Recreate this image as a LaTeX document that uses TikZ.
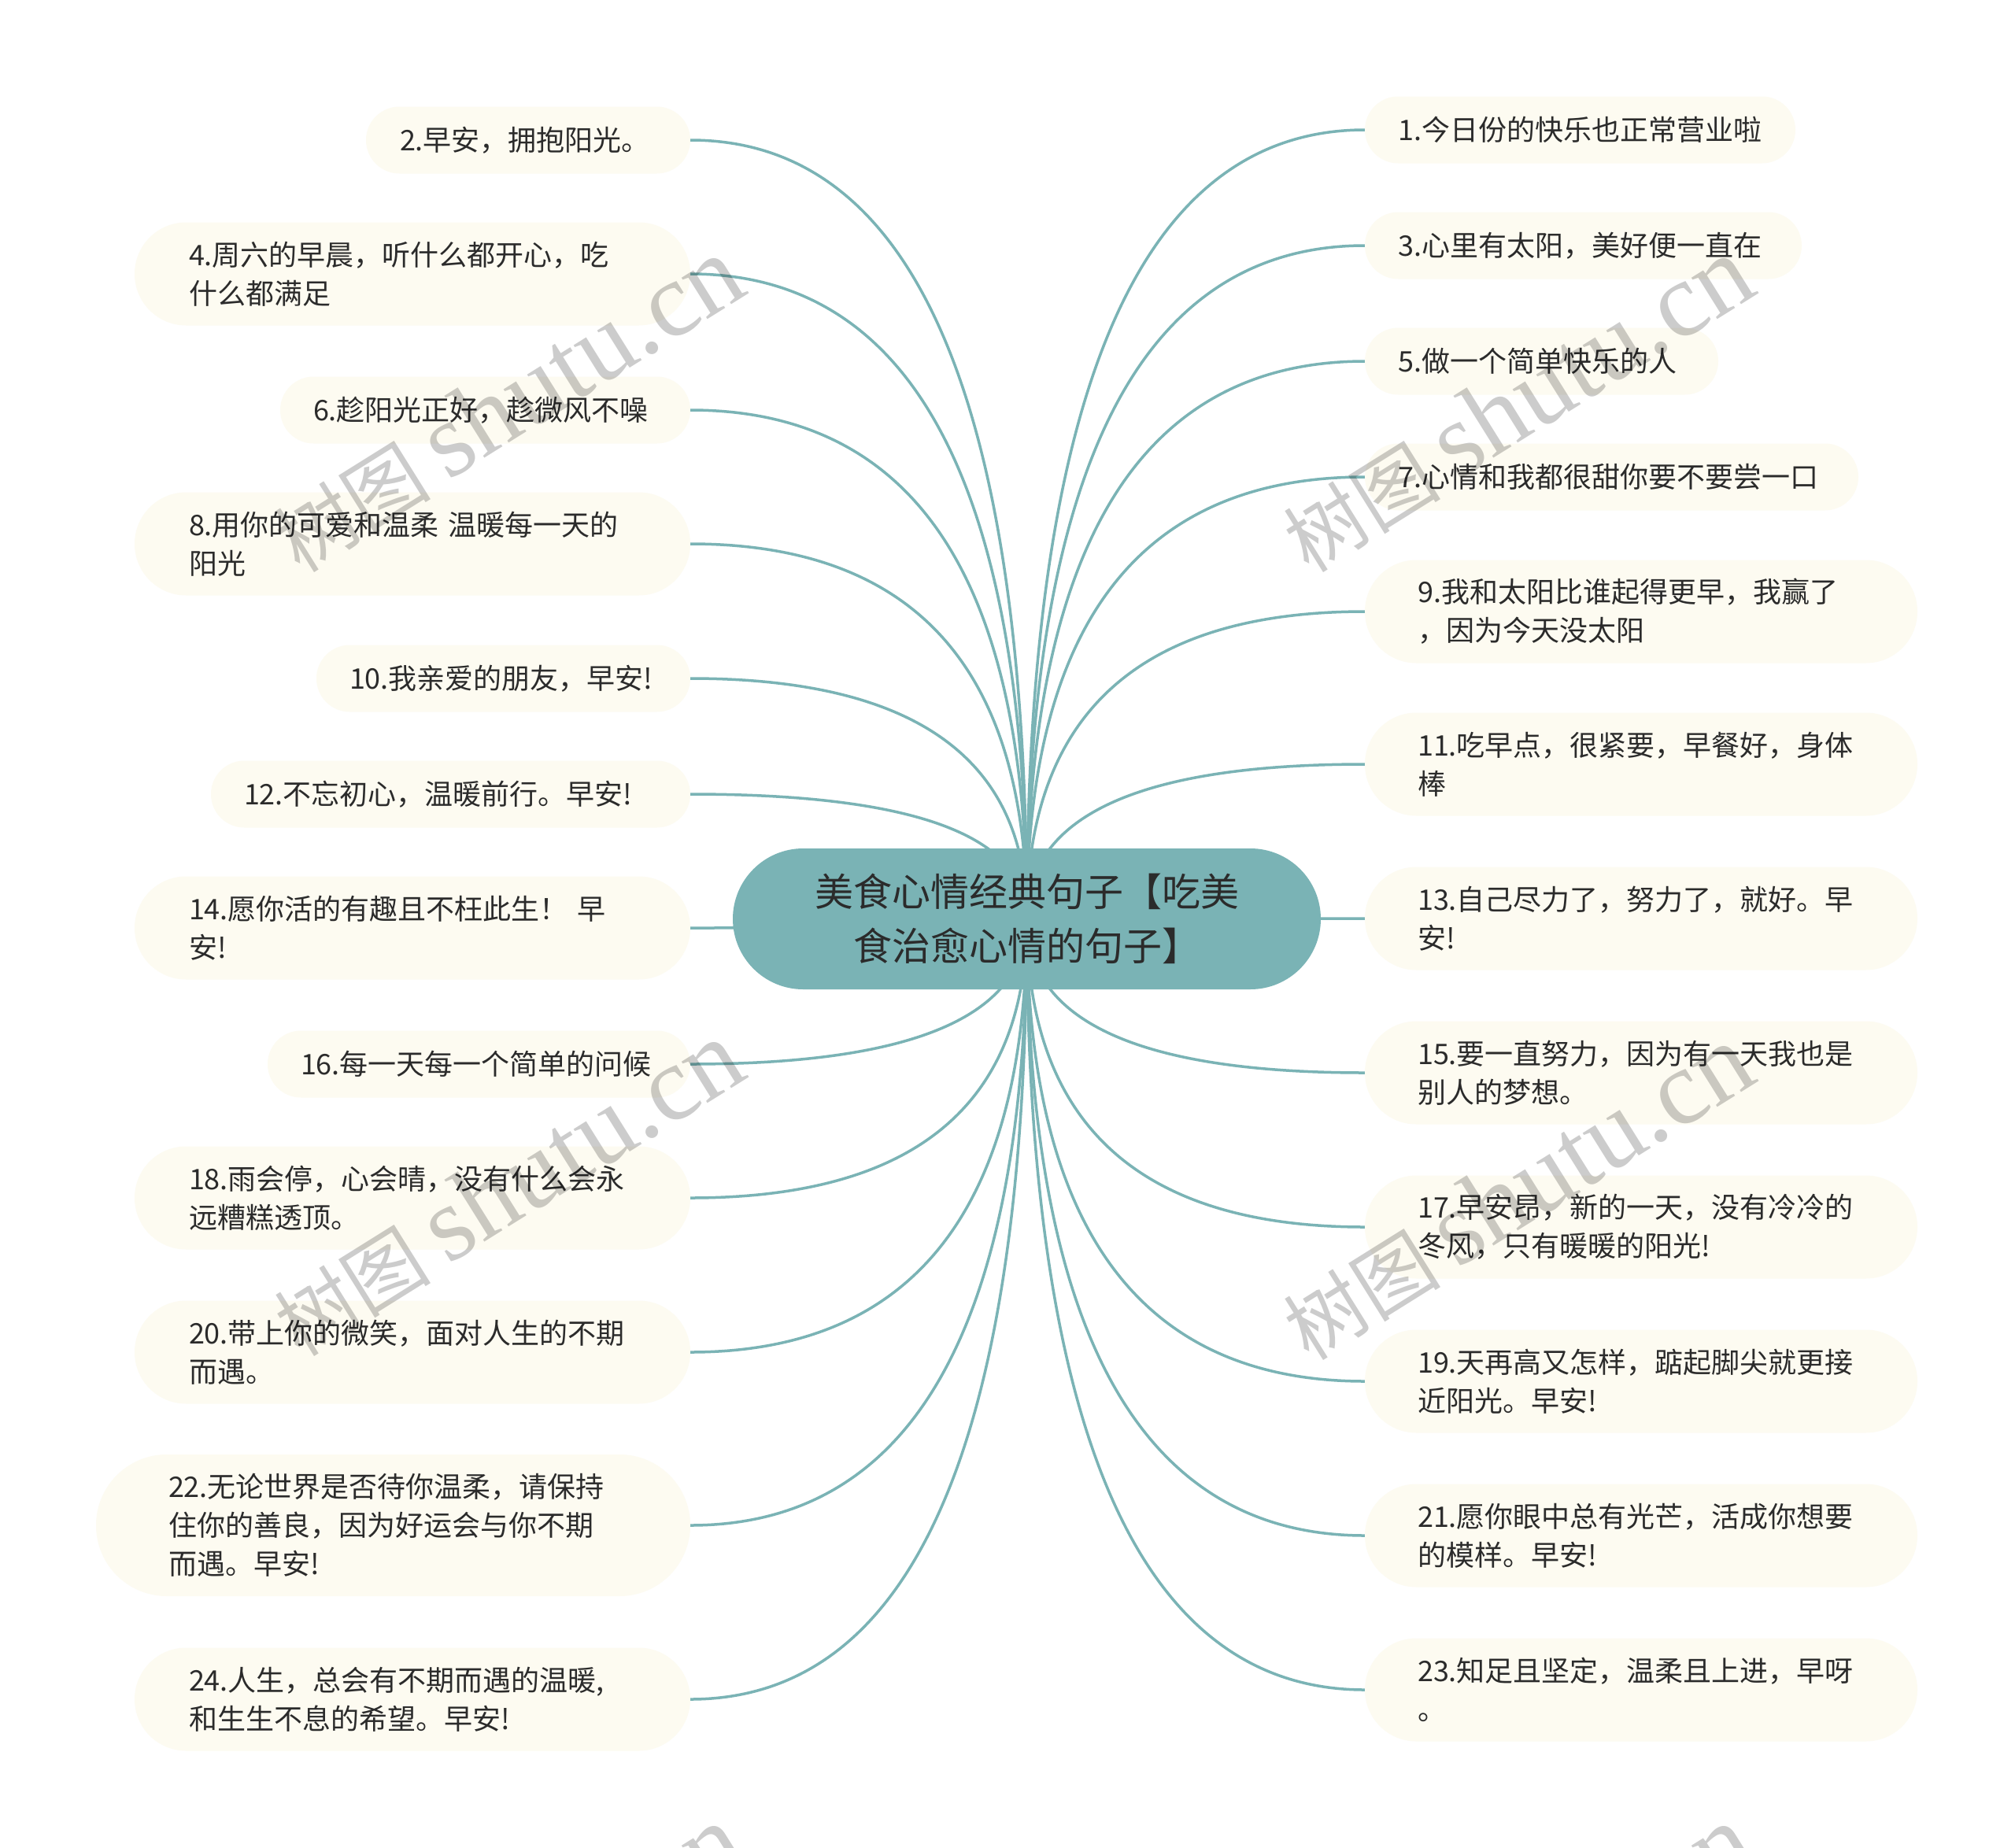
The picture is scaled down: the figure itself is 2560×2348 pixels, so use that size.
\documentclass[tikz,border=0pt]{standalone}
\usepackage{fontspec}
\setmainfont{Noto Sans CJK SC}
\newfontfamily\wmlatin{Liberation Serif}
\usetikzlibrary{calc,backgrounds}
\definecolor{rootcol}{HTML}{7AB3B5}
\definecolor{linecol}{HTML}{7AB3B5}
\definecolor{leafcol}{HTML}{FDFBF1}
\definecolor{txtcol}{HTML}{2B2B2B}
\tikzset{
  leafbox/.style={fill=leafcol, text=txtcol, align=left, inner ysep=0pt, outer sep=0pt,
    font=\fontsize{36}{49}\selectfont},
  rootbox/.style={fill=rootcol, text=txtcol, align=center, inner sep=0pt, outer sep=0pt,
    minimum width=747pt, minimum height=179pt, rounded corners=89.5pt,
    font=\fontsize{49}{69}\selectfont},
  conn/.style={draw=linecol, line width=3.5pt},
  wmark/.style={text=black, text opacity=0.2, rotate=32, inner sep=0pt}
}
% name, cx, cy, width, height, left padding, text
\newcommand\leafnode[7]{%
  \pgfmathsetmacro\lftw{#4-2*#6}%
  \pgfmathsetmacro\lfrr{#5/2}%
  \node[leafbox, minimum width=#4pt, minimum height=#5pt, inner xsep=#6pt,
        text width=\lftw pt, rounded corners=\lfrr pt] (#1) at (#2,#3) {#7};}
\newcommand\conR[1]{%
  \coordinate (k#1) at (root.center |- #1.west);
  \draw[conn] (root.center) .. controls ($(root.center)!0.6667!(k#1)$) and ($(#1.west)!0.6667!(k#1)$) .. (#1.west);}
\newcommand\conL[1]{%
  \coordinate (k#1) at (root.center |- #1.east);
  \draw[conn] (root.center) .. controls ($(root.center)!0.6667!(k#1)$) and ($(#1.east)!0.6667!(k#1)$) .. (#1.east);}
\newcommand\wmtext{{\fontsize{100}{100}\selectfont 树图}\hspace{22pt}{\wmlatin\fontsize{135}{135}\selectfont shutu.cn}}
\begin{document}
\begin{tikzpicture}[x=1pt, y=-1pt]
\useasboundingbox (0,0) rectangle (2560,2348);

\node[rootbox] (root) at (1304.5,1167.5) {美食心情经典句子【吃美\\食治愈心情的句子】};

% right side
\leafnode{r1}{2007.5}{165}{547}{85}{42}{1.今日份的快乐也正常营业啦}
\leafnode{r3}{2011.5}{312}{555}{85}{42}{3.心里有太阳，美好便一直在}
\leafnode{r5}{1958.5}{459}{449}{85}{42}{5.做一个简单快乐的人}
\leafnode{r7}{2047.5}{606}{627}{85}{42}{7.心情和我都很甜你要不要尝一口}
\leafnode{r9}{2085}{777}{702}{131}{67}{9.我和太阳比谁起得更早，我赢了\\，因为今天没太阳}
\leafnode{r11}{2085}{971}{702}{131}{67}{11.吃早点，很紧要，早餐好，身体\\棒}
\leafnode{r13}{2085}{1167}{702}{131}{67}{13.自己尽力了，努力了，就好。早\\安!}
\leafnode{r15}{2085}{1363}{702}{131}{67}{15.要一直努力，因为有一天我也是\\别人的梦想。}
\leafnode{r17}{2085}{1559}{702}{131}{67}{17.早安昂，新的一天，没有冷冷的\\冬风，只有暖暖的阳光!}
\leafnode{r19}{2085}{1755}{702}{131}{67}{19.天再高又怎样，踮起脚尖就更接\\近阳光。早安!}
\leafnode{r21}{2085}{1951}{702}{131}{67}{21.愿你眼中总有光芒，活成你想要\\的模样。早安!}
\leafnode{r23}{2085}{2147}{702}{131}{67}{23.知足且坚定，温柔且上进，早呀\\。}

% left side
\leafnode{l2}{671}{178}{412}{85}{43}{2.早安，拥抱阳光。}
\leafnode{l4}{524}{348}{706}{131}{69}{4.周六的早晨，听什么都开心，吃\\什么都满足}
\leafnode{l6}{616.5}{521}{521}{85}{42}{6.趁阳光正好，趁微风不噪}
\leafnode{l8}{524}{691}{706}{131}{69}{8.用你的可爱和温柔~温暖每一天的\\阳光}
\leafnode{l10}{639.5}{862}{475}{85}{42}{10.我亲爱的朋友，早安!}
\leafnode{l12}{572.5}{1009}{609}{85}{42}{12.不忘初心，温暖前行。早安!}
\leafnode{l14}{524}{1179}{706}{131}{69}{14.愿你活的有趣且不枉此生！~早\\安!}
\leafnode{l16}{608.5}{1352}{537}{85}{42}{16.每一天每一个简单的问候}
\leafnode{l18}{524}{1522}{706}{131}{69}{18.雨会停，心会晴，没有什么会永\\远糟糕透顶。}
\leafnode{l20}{524}{1718}{706}{131}{69}{20.带上你的微笑，面对人生的不期\\而遇。}
\leafnode{l22}{499.5}{1938}{755}{180}{92}{22.无论世界是否待你温柔，请保持\\住你的善良，因为好运会与你不期\\而遇。早安!}
\leafnode{l24}{524}{2159}{706}{131}{69}{24.人生，总会有不期而遇的温暖,\\和生生不息的希望。早安!}

\begin{scope}[on background layer]
  \fill[white] (0,0) rectangle (2560,2348);
  \conR{r1}\conR{r3}\conR{r5}\conR{r7}\conR{r9}\conR{r11}
  \conR{r13}\conR{r15}\conR{r17}\conR{r19}\conR{r21}\conR{r23}
  \conL{l2}\conL{l4}\conL{l6}\conL{l8}\conL{l10}\conL{l12}
  \conL{l14}\conL{l16}\conL{l18}\conL{l20}\conL{l22}\conL{l24}
\end{scope}

% watermarks
\begin{scope}
  \clip (0,0) rectangle (2560,2348);
  \node[wmark] (wm1) at (645,514) {\wmtext};
  \node[wmark] (wm2) at (1927,514) {\wmtext};
  \node[wmark] (wm3) at (645,1510) {\wmtext};
  \node[wmark] (wm4) at (1927,1515) {\wmtext};
  \node[wmark] (wm5) at (645,2506) {\wmtext};
  \node[wmark] (wm6) at (1927,2506) {\wmtext};
\end{scope}
\end{tikzpicture}
\end{document}
